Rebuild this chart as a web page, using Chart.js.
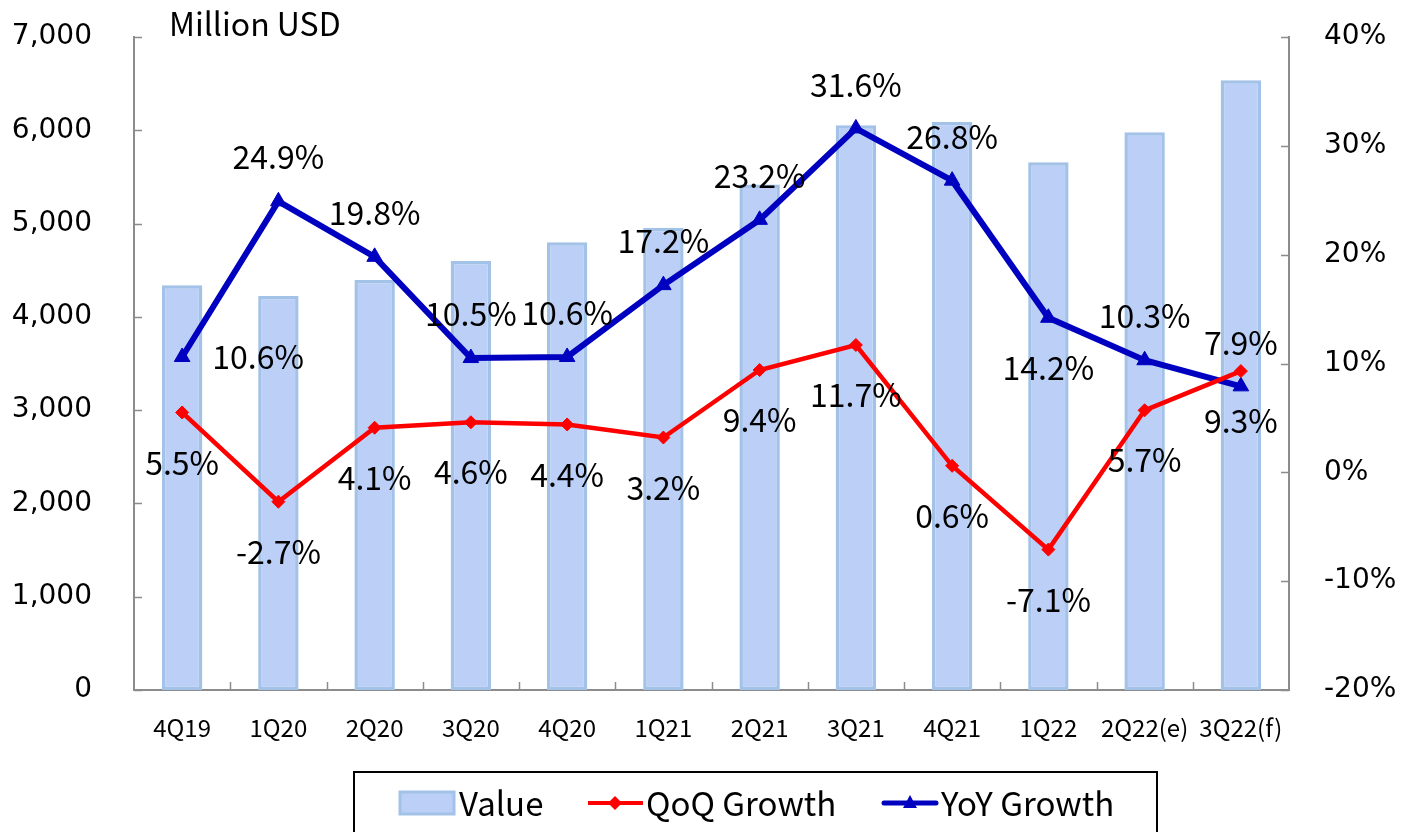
<!DOCTYPE html>
<html>
<head>
<meta charset="utf-8">
<script src="https://cdn.jsdelivr.net/npm/chart.js@4.4.1/dist/chart.umd.min.js"></script>
<style>
  html, body { margin: 0; padding: 0; background: #ffffff; }
  #wrap { width: 1407px; height: 832px; }
</style>
</head>
<body>
<div id="wrap"><canvas id="c" width="1407" height="832"></canvas></div>
<script>
// ---- data ----
const categories = ['4Q19','1Q20','2Q20','3Q20','4Q20','1Q21','2Q21','3Q21','4Q21','1Q22','2Q22(e)','3Q22(f)'];
const values = [4340, 4223, 4396, 4598, 4800, 4954, 5420, 6054, 6090, 5658, 5980, 6536];
const qoqGrowth = [5.5, -2.7, 4.1, 4.6, 4.4, 3.2, 9.4, 11.7, 0.6, -7.1, 5.7, 9.3];
const yoyGrowth = [10.6, 24.9, 19.8, 10.5, 10.6, 17.2, 23.2, 31.6, 26.8, 14.2, 10.3, 7.9];
const leftTicks = [0, 1000, 2000, 3000, 4000, 5000, 6000, 7000];
const rightTicks = [-20, -10, 0, 10, 20, 30, 40];
// label placement (style only)
const yoyLabelPlace = ['right','above','above','above','above','above','above','above','above','below','above','above'];
const qoqLabelPlace = ['below','below','below','below','below','below','below','below','below','below','below','below'];

const CJK = '"Noto Sans CJK TC", "Noto Sans", sans-serif';
const AXF = '"DejaVu Sans", Verdana, sans-serif';
const AXIS_COLOR = '#8c8c8c';

const overlay = {
  id: 'overlay',
  afterDraw(chart) {
    const ctx = chart.ctx;
    const x = chart.scales.x, y = chart.scales.y, y1 = chart.scales.y1;
    const ca = chart.chartArea;
    ctx.save();
    // inside tick marks
    ctx.strokeStyle = AXIS_COLOR;
    ctx.lineWidth = 1.5;
    ctx.beginPath();
    leftTicks.forEach(v => { const py = Math.round(y.getPixelForValue(v)) + 0.5; ctx.moveTo(ca.left, py); ctx.lineTo(ca.left + 8, py); });
    rightTicks.forEach(v => { const py = Math.round(y1.getPixelForValue(v)) + 0.5; ctx.moveTo(ca.right, py); ctx.lineTo(ca.right - 8, py); });
    for (let i = 1; i < categories.length; i++) {
      const px = Math.round((x.getPixelForValue(i - 1) + x.getPixelForValue(i)) / 2) + 0.5;
      ctx.moveTo(px, ca.bottom); ctx.lineTo(px, ca.bottom - 8);
    }
    ctx.stroke();

    // data labels
    ctx.fillStyle = '#000';
    ctx.font = '32px ' + CJK;
    ctx.textAlign = 'center';
    ctx.textBaseline = 'middle';
    const metaY = chart.getDatasetMeta(1), metaQ = chart.getDatasetMeta(2);
    const put = (pt, place, txt) => {
      let tx = pt.x, ty = pt.y;
      if (place === 'above') ty -= 44;
      else if (place === 'below') ty += 50;
      else if (place === 'right') { tx += 76; }
      ctx.fillText(txt, tx, ty);
    };
    metaY.data.forEach((pt, i) => put(pt, yoyLabelPlace[i], yoyGrowth[i].toFixed(1) + '%'));
    metaQ.data.forEach((pt, i) => put(pt, qoqLabelPlace[i], qoqGrowth[i].toFixed(1) + '%'));

    // unit title
    ctx.textAlign = 'left';
    ctx.font = '32px ' + CJK;
    ctx.fillText('Million USD', 169, 24);

    // legend
    ctx.strokeStyle = '#000';
    ctx.lineWidth = 2;
    ctx.strokeRect(354, 772, 803, 70);
    const ly = 803;
    ctx.fillStyle = '#BBCFF7';
    ctx.fillRect(400, ly - 11, 54, 22);
    ctx.strokeStyle = '#A3C2E8';
    ctx.lineWidth = 3;
    ctx.strokeRect(400, ly - 11, 54, 22);
    ctx.fillStyle = '#000';
    ctx.font = '33px ' + CJK;
    ctx.textAlign = 'left';
    ctx.fillText('Value', 459, ly);
    // QoQ
    ctx.strokeStyle = '#FF0000'; ctx.lineWidth = 4;
    ctx.beginPath(); ctx.moveTo(588, ly); ctx.lineTo(643, ly); ctx.stroke();
    ctx.fillStyle = '#FF0000';
    ctx.beginPath(); ctx.moveTo(615, ly - 7); ctx.lineTo(622, ly); ctx.lineTo(615, ly + 7); ctx.lineTo(608, ly); ctx.closePath(); ctx.fill();
    ctx.fillStyle = '#000';
    ctx.fillText('QoQ Growth', 646, ly);
    // YoY
    ctx.strokeStyle = '#0000C0'; ctx.lineWidth = 5;
    ctx.lineCap = 'round';
    ctx.beginPath(); ctx.moveTo(884, ly); ctx.lineTo(936, ly); ctx.stroke();
    ctx.lineCap = 'butt';
    ctx.fillStyle = '#0000C0';
    ctx.beginPath(); ctx.moveTo(910, ly - 8); ctx.lineTo(917, ly + 5); ctx.lineTo(903, ly + 5); ctx.closePath(); ctx.fill();
    ctx.fillStyle = '#000';
    ctx.fillText('YoY Growth', 941, ly);
    ctx.restore();
  }
};

function fitY(width) {
  return function (s) { s.width = width; s.paddingTop = 0; s.paddingBottom = 0; };
}

new Chart(document.getElementById('c'), {
  type: 'bar',
  data: {
    labels: categories,
    datasets: [
      {
        type: 'bar', label: 'Value', data: values, yAxisID: 'y',
        backgroundColor: '#BBCFF7', borderColor: '#A3C2E8', borderWidth: 3.5, borderSkipped: false,
        barPercentage: 0.42, categoryPercentage: 1.0, order: 3
      },
      {
        type: 'line', label: 'YoY Growth', data: yoyGrowth, yAxisID: 'y1',
        borderColor: '#0000C0', backgroundColor: '#0000C0', borderWidth: 6,
        pointStyle: 'triangle', pointRadius: 9, pointBorderWidth: 1, tension: 0, order: 2
      },
      {
        type: 'line', label: 'QoQ Growth', data: qoqGrowth, yAxisID: 'y1',
        borderColor: '#FF0000', backgroundColor: '#FF0000', borderWidth: 4.5,
        pointStyle: 'rectRot', pointRadius: 6.5, pointBorderWidth: 1, tension: 0, order: 1
      }
    ]
  },
  options: {
    responsive: false,
    animation: false,
    layout: { padding: { top: 37, left: 0, right: 0, bottom: 0 } },
    plugins: { legend: { display: false }, tooltip: { enabled: false } },
    scales: {
      x: {
        offset: true,
        grid: { display: false, drawTicks: false },
        border: { display: true, color: AXIS_COLOR, width: 2 },
        ticks: { color: '#000', font: { family: CJK, size: 24 }, padding: 23, maxRotation: 0, autoSkip: false },
        afterFit(s) { s.height = 142; s.paddingLeft = 0; s.paddingRight = 0; }
      },
      y: {
        position: 'left', min: 0, max: 7000,
        afterBuildTicks(s) { s.ticks = leftTicks.map(v => ({ value: v })); },
        grid: { display: false, drawTicks: false },
        border: { display: true, color: AXIS_COLOR, width: 2 },
        ticks: { color: '#000', font: { family: AXF, size: 28 }, padding: 42,
          callback: v => v.toLocaleString('en-US') },
        afterFit: fitY(134)
      },
      y1: {
        position: 'right', min: -20, max: 40,
        afterBuildTicks(s) { s.ticks = rightTicks.map(v => ({ value: v })); },
        grid: { display: false, drawTicks: false },
        border: { display: true, color: AXIS_COLOR, width: 2 },
        ticks: { color: '#000', font: { family: AXF, size: 28 }, padding: 35,
          callback: v => v + '%' },
        afterFit: fitY(118)
      }
    }
  },
  plugins: [overlay]
});
</script>
</body>
</html>
